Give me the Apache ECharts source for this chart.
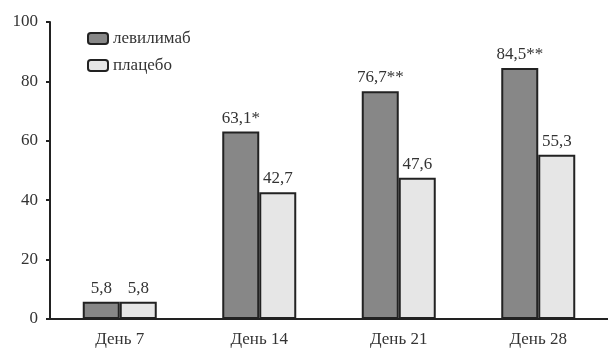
<!DOCTYPE html>
<html>
<head>
<meta charset="utf-8">
<script src="https://cdn.jsdelivr.net/npm/echarts@6/dist/echarts.min.js"></script>
<style>
html,body{margin:0;padding:0;background:#fff;}
#chart{width:608px;height:348px;}
</style>
</head>
<body>
<div id="chart"></div>
<script>
// Days of observation
var categories = ['День 7', 'День 14', 'День 21', 'День 28'];
// Share of responders, %
var levilimab = [5.8, 63.1, 76.7, 84.5];
var placebo = [5.8, 42.7, 47.6, 55.3];
// Significance markers appended to the levilimab labels
var levMarks = ['', '*', '**', '**'];
var placeboMarks = ['', '', '', ''];
var yTicks = [0, 20, 40, 60, 80, 100];

var serif = '"Liberation Serif", "DejaVu Serif", serif';
var txt = '#333';

function fmt(v) { return String(v).replace('.', ','); }

var chart = echarts.init(document.getElementById('chart'));
chart.setOption({
  animation: false,
  textStyle: { fontFamily: serif },
  grid: { left: 50, right: -2, top: 22, bottom: 29 },
  legend: {
    orient: 'vertical',
    left: 82,
    top: 25,
    itemWidth: 20,
    itemHeight: 11,
    itemGap: 10,
    textStyle: { fontFamily: serif, fontSize: 17, color: txt },
    data: [
      { name: 'левилимаб', icon: 'roundRect' },
      { name: 'плацебо', icon: 'roundRect' }
    ]
  },
  xAxis: {
    type: 'category',
    data: categories,
    axisLine: { lineStyle: { color: '#222', width: 2 } },
    axisTick: { show: false },
    axisLabel: { fontFamily: serif, fontSize: 17, color: txt, margin: 12 }
  },
  yAxis: {
    type: 'value',
    min: yTicks[0],
    max: yTicks[yTicks.length - 1],
    interval: 20,
    splitLine: { show: false },
    axisLine: { show: true, lineStyle: { color: '#222', width: 2 } },
    axisTick: { show: true, length: 4, lineStyle: { color: '#222', width: 2 } },
    axisLabel: { fontFamily: serif, fontSize: 17, color: txt, margin: 12 }
  },
  series: [
    {
      name: 'левилимаб',
      type: 'bar',
      data: levilimab,
      barWidth: 37,
      barGap: '0%',
      itemStyle: { color: '#878787', borderColor: '#222', borderWidth: 2 },
      label: {
        show: true,
        position: 'top',
        distance: 5,
        fontFamily: serif,
        fontSize: 17,
        color: txt,
        formatter: function (p) { return fmt(p.value) + levMarks[p.dataIndex]; }
      }
    },
    {
      name: 'плацебо',
      type: 'bar',
      data: placebo,
      barWidth: 37,
      barGap: '0%',
      itemStyle: { color: '#e6e6e6', borderColor: '#222', borderWidth: 2 },
      label: {
        show: true,
        position: 'top',
        distance: 5,
        fontFamily: serif,
        fontSize: 17,
        color: txt,
        formatter: function (p) { return fmt(p.value) + placeboMarks[p.dataIndex]; }
      }
    }
  ]
});
</script>
</body>
</html>
